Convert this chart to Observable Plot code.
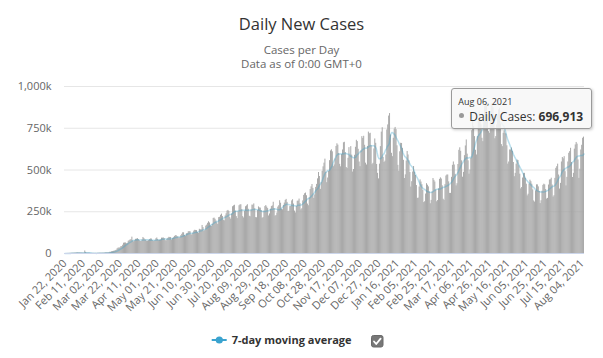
<!DOCTYPE html>
<html><head><meta charset="utf-8">
<script src="https://cdn.jsdelivr.net/npm/d3@7"></script>
<script src="https://cdn.jsdelivr.net/npm/@observablehq/plot@0.6"></script>
<style>
body{margin:0;background:#fff;font-family:"Open Sans",sans-serif;}
#wrap{position:relative;width:603px;height:358px;overflow:hidden;background:#fff;}
#wrap svg.plot{position:absolute;left:0;top:0;}
.abs{position:absolute;white-space:nowrap;}
#title{left:0;width:603px;top:12.6px;text-align:center;font-size:16.5px;line-height:22px;color:#333;}
#sub{left:0;width:603px;top:42.8px;text-align:center;font-size:11.5px;line-height:14px;color:#666;}
#tip{left:451px;top:88px;width:141px;height:41px;box-sizing:border-box;border:1px solid #9a9a9a;border-radius:3px;background:rgba(247,247,247,0.86);box-shadow:1px 1px 3px rgba(0,0,0,0.22);}
#tiphead{left:6.3px;top:5.7px;font-size:9px;color:#333;}
#tipdot{left:7.2px;top:24.4px;width:5px;height:5px;border-radius:50%;background:#999;}
#tipbody{left:17.3px;top:18.9px;font-size:12px;color:#333;}
#tipbody b{font-weight:bold;}
#legtext{left:231.7px;top:332.2px;font-size:11px;font-weight:bold;color:#333;}
#legsym{left:210px;top:334px;}
#chk{left:371px;top:335px;}
</style></head><body><div id="wrap"></div>
<script>
// Daily new cases, in thousands (Jan 22, 2020 – Aug 06, 2021)
const jan2020 = [0, 0.1, 0.3, 0.5, 0.7, 0.8, 1.5, 1.5, 1.7, 2.0];
const feb2020 = [2.1,2.6,2.8,3.2,3.7,3.2,3.4,2.7,3.0,2.5,2.0,2.0,15.1,6.5,2.1,2.1,2.0,1.9,0.5,0.6,1.0,1.0,0.6,0.6,0.9,1.0,1.3,1.5,1.8];
const mar2020 = [2.0,1.9,2.3,2.3,2.8,3.9,4.0,4.0,4.0,4.6,7.3,7.5,10.5,11.3,13.0,14.4,17.0,19.4,28.0,32.3,32.8,33.3,40.5,41.6,49.5,61.8,62.8,63.2,58.5,60.7,73.5];
const apr2020 = [76.8,81.2,82.5,98.0,75.8,70.0,76.0,85.0,86.0,89.0,83.0,76.0,72.0,72.0,82.0,96.0,90.0,82.0,80.0,73.0,74.0,77.0,83.0,87.0,87.0,78.0,72.0,75.0,76.0,88.0];
const may2020 = [93,84,77,79,81,92,92,93,89,77,76,86,91,97,96,96,81,89,94,102,107,106,101,97,89,96,107,115,124,124,108];
const jun2020 = [104,118,120,130,131,130,111,112,122,134,139,138,137,125,121,145,142,142,168,155,132,138,164,170,181,190,183,165,162,175];
const jul2020 = [210,212,205,195,183,174,215,217,229,236,222,200,196,225,238,254,258,252,215,206,237,280,285,289,254,221,209,249,286,291,292];
const aug2020 = [263,221,213,253,280,285,292,265,223,220,261,290,289,297,268,215,214,257,279,273,272,257,211,215,254,281,287,278,269,225,237];
const sep2020 = [265,281,285,307,269,224,227,242,278,286,316,301,265,262,288,302,318,324,306,251,253,281,282,315,322,296,254,243,281,313];
const oct2020 = [314,326,299,261,268,315,348,358,362,346,296,286,333,383,399,413,390,330,351,396,414,447,485,461,384,424,492,519,541,565,487];
const nov2020 = [424,452,491,556,614,621,609,520,530,566,641,657,649,599,534,519,592,620,663,666,604,515,509,570,634,588,640,589,488,503];
const dec2020 = [588,636,678,670,624,548,520,615,700,689,702,648,541,530,641,727,717,720,645,532,540,626,686,660,533,480,447,535,640,727,753];
const jan2021 = [576,545,553,590,740,770,823,838,710,600,580,690,745,755,742,645,528,492,609,660,659,630,558,449,471,554,611,590,555,485,398];
const feb2021 = [430,488,521,487,467,407,330,332,398,441,428,412,378,305,310,356,418,409,399,369,298,318,368,449,438,428,380,310];
const mar2021 = [317,387,444,453,446,405,325,318,412,464,470,470,429,360,360,456,528,548,530,474,405,418,533,618,633,612,555,457,486,586,644];
const apr2021 = [680,595,555,475,500,570,735,800,760,700,618,590,700,789,848,811,771,690,670,800,882,897,889,831,730,720,829,895,897,872];
const may2021 = [810,687,700,770,825,860,870,776,652,640,720,734,720,715,645,535,548,620,620,632,612,545,460,480,535,560,557,525,475,387,395];
const jun2021 = [452,478,480,450,415,345,355,415,439,430,415,381,315,308,375,411,411,399,372,299,316,373,408,415,411,383,326,330,410,440];
const jul2021 = [442,451,410,338,346,450,510,520,535,470,386,420,548,575,567,580,490,405,456,548,600,610,630,545,455,480,625,650,665,655,560];
const aug2021 = [450,505,620,648,690,696.913];

const firstDay = "2020-01-22";
const xTickLabels = ["2020-01-22","2020-02-11","2020-03-02","2020-03-22","2020-04-11","2020-05-01","2020-05-21","2020-06-10","2020-06-30","2020-07-20","2020-08-09","2020-08-29","2020-09-18","2020-10-08","2020-10-28","2020-11-17","2020-12-07","2020-12-27","2021-01-16","2021-02-05","2021-02-25","2021-03-17","2021-04-06","2021-04-26","2021-05-16","2021-06-05","2021-06-25","2021-07-15","2021-08-04"];
const yTicks = [0, 250000, 500000, 750000, 1000000];

const dailyK = [].concat(jan2020,feb2020,mar2020,apr2020,may2020,jun2020,jul2020,aug2020,sep2020,oct2020,nov2020,dec2020,jan2021,feb2021,mar2021,apr2021,may2021,jun2021,jul2021,aug2021);
const DAY = 864e5;
const t0 = Date.parse(firstDay + "T00:00:00Z");
const data = dailyK.map((v, i) => ({
  x1: new Date(t0 + i * DAY),
  x2: new Date(t0 + (i + 1) * DAY),
  mid: new Date(t0 + i * DAY + DAY / 2),
  cases: v * 1000
}));
const xTicks = xTickLabels.map(s => new Date(Date.parse(s + "T12:00:00Z")));
const yFmt = d => d === 0 ? "0" : d3.format(",")(d / 1000) + "k";

const chart = Plot.plot({
  width: 603, height: 358,
  marginTop: 86, marginBottom: 105, marginLeft: 64, marginRight: 19,
  style: {fontFamily: "'Open Sans', sans-serif", fontSize: "11px", color: "#666", background: "transparent", overflow: "visible"},
  x: {type: "utc", domain: [new Date(t0), new Date(t0 + dailyK.length * DAY)]},
  y: {domain: [0, 1000000]},
  marks: [
    Plot.gridY(yTicks, {stroke: "#e6e6e6", strokeOpacity: 1}),
    Plot.axisY(yTicks, {tickSize: 0, tickPadding: 13, tickFormat: yFmt, label: null, fill: "#666"}),
    Plot.rectY(data, {x1: "x1", x2: "x2", y: "cases", fill: "#a3a3a3", inset: 0}),
    Plot.lineY(data, Plot.windowY({k: 7, anchor: "end"}, {x: "mid", y: "cases", stroke: "#39a3cb", strokeOpacity: 0.35, strokeWidth: 1.5})),
    Plot.ruleY([0], {stroke: "#ccd6eb"}),
    Plot.axisX(xTicks, {tickSize: 0, tickPadding: 8, tickRotate: -45, tickFormat: d3.utcFormat("%b %d, %Y"), label: null, fill: "#666"})
  ]
});
chart.classList.add("plot");

const wrap = document.getElementById("wrap");
wrap.appendChild(chart);
wrap.insertAdjacentHTML("beforeend", `
<div id="title" class="abs">Daily New Cases</div>
<div id="sub" class="abs">Cases per Day<br>Data as of 0:00 GMT+0</div>
<div id="tip" class="abs">
  <div id="tiphead" class="abs">Aug 06, 2021</div>
  <div id="tipdot" class="abs"></div>
  <div id="tipbody" class="abs">Daily Cases: <b>696,913</b></div>
</div>
<svg id="legsym" class="abs" width="20" height="12"><line x1="1.7" y1="6" x2="16.7" y2="6" stroke="#3aa3cf" stroke-width="2"/><circle cx="9.3" cy="6" r="3.6" fill="#3aa3cf"/></svg>
<div id="legtext" class="abs">7-day moving average</div>
<svg id="chk" class="abs" width="13" height="13"><rect x="0.5" y="0.5" width="11.5" height="11.5" rx="2" fill="#777" stroke="#6a6a6a"/><polyline points="3,6.5 5.2,9 9.6,3.6" fill="none" stroke="#fff" stroke-width="1.8" stroke-linecap="round" stroke-linejoin="round"/></svg>
`);
</script></body></html>
